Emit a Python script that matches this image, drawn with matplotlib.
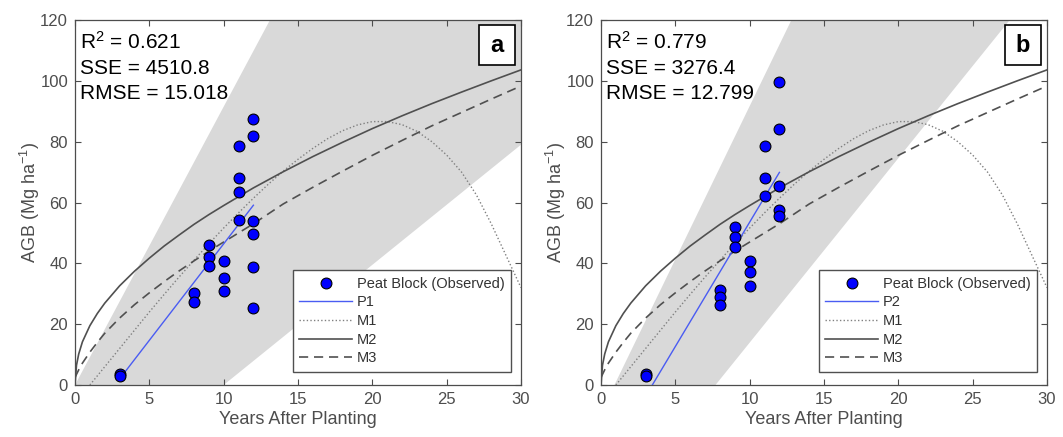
import matplotlib
matplotlib.use("Agg")
import matplotlib.pyplot as plt
from matplotlib.patches import Rectangle

plt.rcParams['font.family'] = ['Liberation Sans', 'DejaVu Sans']
plt.rcParams['mathtext.fontset'] = 'custom'
plt.rcParams['mathtext.rm'] = 'Liberation Sans'
plt.rcParams['mathtext.default'] = 'regular'

# observed peat block AGB (same ages in both panels)
obs_years_a = [3, 3, 8, 8, 9, 9, 9, 10, 10, 10, 11, 11, 11, 11, 12, 12, 12, 12, 12, 12]
obs_agb_a = [3.6, 3.1, 30.4, 27.4, 46.1, 42.2, 39.2, 40.8, 35.3, 30.8,
             78.5, 67.9, 63.5, 54.1, 87.4, 81.8, 53.8, 49.8, 38.9, 25.2]
obs_years_b = [3, 3, 8, 8, 8, 9, 9, 9, 10, 10, 10, 11, 11, 11, 12, 12, 12, 12, 12]
obs_agb_b = [3.6, 3.1, 31.3, 29.0, 26.4, 52.0, 48.6, 45.4, 40.7, 37.0, 32.4,
             78.5, 67.9, 62.0, 99.7, 84.1, 65.3, 57.6, 55.4]

# linear fits (end points)
p1_x = [3, 12]
p1_y = [2.0, 59.1]
p2_x = [3, 12]
p2_y = [-3.7, 69.9]

# shaded bands (straight edges, read at x=0 and x=30)
band_x = [0, 30]
band_a_upper = [0.0, 274.5]
band_a_lower = [-39.5, 79.0]
band_b_upper = [-9.1, 293.3]
band_b_lower = [-46.7, 135.2]

# model curves
m1_x = [1, 2, 3, 4, 5, 6, 7, 8, 9, 10, 11, 12, 13, 14, 15, 16, 17, 18, 19, 20,
        21, 22, 23, 24, 25, 26, 27, 28, 29, 30]
m1_y = [0, 6.0, 12.0, 18.0, 24.0, 29.8, 35.5, 41.0, 46.4, 51.6, 56.6, 61.4, 66.0,
        70.3, 74.2, 77.8, 81.0, 83.6, 85.5, 86.6, 86.6, 85.6, 83.4, 80.0, 75.6,
        70.0, 62.5, 53.0, 42.5, 32.0]
m2_x = [0, 0.1, 0.25, 0.5, 1, 1.5, 2, 3, 4, 5, 6, 7, 8, 9, 10, 12, 14, 16, 18,
        20, 22, 24, 26, 28, 30]
m2_y = [0, 6.5, 10.2, 14.2, 19.5, 23.5, 26.9, 32.6, 37.4, 41.7, 45.7, 49.3, 52.8,
        56.0, 59.0, 64.8, 70.1, 75.1, 79.8, 84.3, 88.5, 92.5, 96.3, 100.0, 103.6]
m3_x = [0, 0.25, 0.5, 1, 1.5, 2, 3, 4, 5, 6, 7, 8, 9, 10, 12, 14, 16, 18, 20,
        22, 24, 26, 28, 30]
m3_y = [2.5, 5.0, 7.2, 10.8, 14.0, 17.0, 22.0, 26.4, 30.3, 34.0, 37.5, 40.8, 44.0,
        47.0, 53.0, 59.5, 65.0, 70.3, 75.5, 80.4, 85.2, 89.6, 94.0, 98.3]

x_ticks = [0, 5, 10, 15, 20, 25, 30]
y_ticks = [0, 20, 40, 60, 80, 100, 120]

panels = [
    {'label': 'a', 'p_name': 'P1', 'px': p1_x, 'py': p1_y,
     'upper': band_a_upper, 'lower': band_a_lower,
     'ox': obs_years_a, 'oy': obs_agb_a,
     'stats': ['R$^2$ = 0.621', 'SSE = 4510.8', 'RMSE = 15.018']},
    {'label': 'b', 'p_name': 'P2', 'px': p2_x, 'py': p2_y,
     'upper': band_b_upper, 'lower': band_b_lower,
     'ox': obs_years_b, 'oy': obs_agb_b,
     'stats': ['R$^2$ = 0.779', 'SSE = 3276.4', 'RMSE = 12.799']},
]

axis_col = '#4d4d4d'
curve_col = '#505050'

fig = plt.figure(figsize=(10.63, 4.37), dpi=100)
lefts = [75 / 1063, 601 / 1063]

for left, pan in zip(lefts, panels):
    ax = fig.add_axes([left, 52 / 437, 446 / 1063, 365 / 437])
    ax.fill_between(band_x, pan['lower'], pan['upper'], color='#d9d9d9',
                    lw=0, zorder=1)
    ax.plot(pan['ox'], pan['oy'], 'o', ms=7.8, mfc='#0000ff', mec='black',
            mew=0.8, zorder=5, label='Peat Block (Observed)')
    ax.plot(pan['px'], pan['py'], color='#4a5cf2', lw=1.0, zorder=4,
            label=pan['p_name'])
    ax.plot(m1_x, m1_y, color='#808080', lw=1.0, ls=(0, (1, 1.6)), zorder=3,
            label='M1')
    ax.plot(m2_x, m2_y, color=curve_col, lw=1.2, zorder=3, label='M2')
    ax.plot(m3_x, m3_y, color=curve_col, lw=1.2, ls=(0, (5.5, 3.5)), zorder=3,
            label='M3')

    ax.set_xlim(0, 30)
    ax.set_ylim(0, 120)
    ax.set_xticks(x_ticks)
    ax.set_yticks(y_ticks)
    ax.tick_params(direction='in', top=True, right=True, length=4, width=0.8,
                   colors=axis_col, labelsize=12, pad=5)
    for sp in ax.spines.values():
        sp.set_color(axis_col)
        sp.set_linewidth(0.9)
    ax.set_xlabel('Years After Planting', fontsize=13, color=axis_col, labelpad=3)
    ax.set_ylabel('AGB (Mg ha$^{-1}$)', fontsize=13, color=axis_col, labelpad=-1)

    for i, line in enumerate(pan['stats']):
        ax.text(0.012, 0.922 - i * 0.069, line, transform=ax.transAxes,
                fontsize=15, color='black', va='baseline', ha='left', zorder=6)

    ax.add_patch(Rectangle((0.906, 0.877), 0.081, 0.108, transform=ax.transAxes,
                           fc='white', ec='black', lw=1.2, zorder=6))
    ax.text(0.9465, 0.931, pan['label'], transform=ax.transAxes, fontsize=17,
            fontweight='bold', ha='center', va='center', zorder=7)

    leg = ax.legend(loc='lower right', bbox_to_anchor=(0.978, 0.036),
                    borderaxespad=0, fontsize=10.5, handlelength=3.6,
                    handletextpad=0.35, labelspacing=0.32, borderpad=0.45,
                    fancybox=False, framealpha=1, edgecolor='#505050',
                    numpoints=1)
    leg.get_frame().set_linewidth(1.0)
    leg.set_zorder(8)
    for t in leg.get_texts():
        t.set_color('#333333')

fig.savefig('out.png', dpi=100)
